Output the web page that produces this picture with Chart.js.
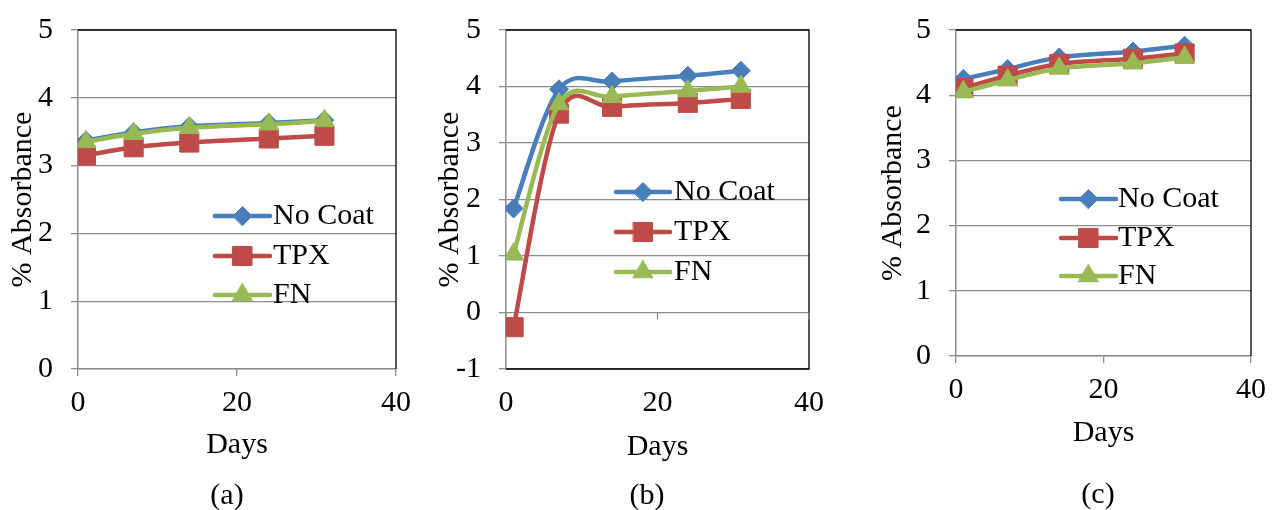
<!DOCTYPE html>
<html>
<head>
<meta charset="utf-8">
<script src="https://cdn.jsdelivr.net/npm/chart.js@4.4.1/dist/chart.umd.min.js"></script>
<style>
    body { margin: 0; background: #fff; }
    #wrap { position: relative; width: 1276px; height: 510px; }
    canvas { position: absolute; top: 0; }
    .cap { position: absolute; font: 30px "Liberation Serif", "Times New Roman", serif; line-height: 1; transform: translate(-50%, -50%); color: #000; }
</style>
</head>
<body>
<div id="wrap">
    <canvas id="chartA" width="420" height="510" style="left:0px"></canvas>
    <canvas id="chartB" width="420" height="510" style="left:420px"></canvas>
    <canvas id="chartC" width="436" height="510" style="left:840px"></canvas>
    <div class="cap" style="left:227px; top:494px">(a)</div>
    <div class="cap" style="left:647px; top:494px">(b)</div>
    <div class="cap" style="left:1098px; top:493px">(c)</div>
</div>
<script>
// datos
const days = [1, 7, 14, 24, 31];
const seriesNames = ['No Coat', 'TPX', 'FN'];

const noCoatA = [3.37, 3.49, 3.58, 3.63, 3.67];
const tpxA = [3.15, 3.27, 3.34, 3.40, 3.44];
const fnA = [3.35, 3.47, 3.56, 3.61, 3.66];

const noCoatB = [1.84, 3.95, 4.09, 4.19, 4.28];
const tpxB = [-0.26, 3.52, 3.64, 3.71, 3.78];
const fnB = [1.03, 3.69, 3.82, 3.92, 4.00];

const noCoatC = [4.25, 4.40, 4.58, 4.67, 4.76];
const tpxC = [4.11, 4.30, 4.48, 4.56, 4.64];
const fnC = [4.05, 4.23, 4.41, 4.49, 4.58];

const xRange = [0, 40];
const xStep = 20;
const yRangeA = [0, 5];
const yRangeB = [-1, 5];
const yRangeC = [0, 5];

const xTitle = 'Days';
const yTitle = '% Absorbance';

// estilos
const colors = ['#4A7EBB', '#BE4B48', '#98B954'];
const markers = ['rectRot', 'rect', 'triangle'];
const markerSize = [9.5, 13.5, 11.5];
const gridColor = '#8c8c8c';
const fontFamily = '"Liberation Serif", "Times New Roman", serif';
const fontSize = 30;

const makeDatasets = (valueLists) => valueLists.map((vals, i) => ({
    label: seriesNames[i],
    data: days.map((d, j) => ({ x: d, y: vals[j] })),
    borderColor: colors[i],
    backgroundColor: colors[i],
    pointBackgroundColor: colors[i],
    pointBorderColor: colors[i],
    borderWidth: 4.5,
    pointStyle: markers[i],
    pointRadius: markerSize[i],
    pointBorderWidth: 1,
    tension: 0.4,
    order: 3 - i,
}));

// suavizado tipo Excel (Catmull-Rom) sobre los puntos ya escalados
const excelSmooth = {
    id: 'excelSmooth',
    beforeDatasetsDraw(chart) {
        chart.getSortedVisibleDatasetMetas().forEach(meta => {
            const line = meta.dataset;
            line.updateControlPoints(chart.chartArea, 'x');
            const pts = meta.data;
            pts.forEach((p, i) => {
                const p0 = pts[i - 1] || p;
                const p2 = pts[i + 1] || p;
                const dx = (p2.x - p0.x) / 6;
                const dy = (p2.y - p0.y) / 6;
                p.cp1x = p.x - dx;
                p.cp1y = p.y - dy;
                p.cp2x = p.x + dx;
                p.cp2y = p.y + dy;
            });
        });
    }
};

// marco, marcas del eje y leyenda dentro del area
const panelDecor = {
    id: 'panelDecor',
    beforeDatasetsDraw(chart, args, opts) {
        const { ctx, chartArea: a, scales } = chart;
        ctx.save();
        ctx.strokeStyle = '#000';
        ctx.lineWidth = 1.3;
        ctx.beginPath();
        ctx.moveTo(a.left, a.top);
        ctx.lineTo(a.right, a.top);
        ctx.lineTo(a.right, a.bottom);
        if (opts.closeBottom) ctx.lineTo(a.left, a.bottom);
        ctx.stroke();
        if (opts.crossAt !== null) {
            const y0 = scales.y.getPixelForValue(opts.crossAt);
            ctx.strokeStyle = gridColor;
            ctx.lineWidth = 1.3;
            scales.x.ticks.forEach(t => {
                const x = scales.x.getPixelForValue(t.value);
                ctx.beginPath();
                ctx.moveTo(x, y0);
                ctx.lineTo(x, y0 + 7);
                ctx.stroke();
            });
        }
        ctx.restore();
    },
    afterDatasetsDraw(chart, args, opts) {
        const { ctx } = chart;
        const lg = opts.legend;
        ctx.save();
        chart.data.datasets.forEach((ds, i) => {
            const y = lg.rows[i];
            ctx.strokeStyle = ds.borderColor;
            ctx.lineWidth = ds.borderWidth;
            ctx.lineCap = 'round';
            ctx.beginPath();
            ctx.moveTo(lg.x1, y);
            ctx.lineTo(lg.x2, y);
            ctx.stroke();
            ctx.fillStyle = ds.pointBackgroundColor;
            ctx.lineWidth = 1;
            Chart.helpers.drawPoint(ctx, {
                pointStyle: ds.pointStyle, radius: ds.pointRadius, rotation: 0, borderWidth: 1
            }, (lg.x1 + lg.x2) / 2, y);
            ctx.fillStyle = '#000';
            ctx.font = fontSize + 'px ' + fontFamily;
            ctx.textBaseline = 'middle';
            ctx.textAlign = 'left';
            ctx.fillText(ds.label, lg.textX, y);
        });
        ctx.restore();
    }
};

const makeChart = (canvasId, valueLists, yRange, box) => {
    const canvas = document.getElementById(canvasId);
    const H = canvas.height;
    const W = canvas.width;
    const lineH = fontSize * 1.2;
    const xAxisHeight = box.daysY + lineH / 2 - box.bottom;
    return new Chart(canvas, {
        type: 'line',
        data: { datasets: makeDatasets(valueLists) },
        plugins: [excelSmooth, panelDecor],
        options: {
            responsive: false,
            animation: false,
            layout: {
                padding: { left: 0, top: box.top, right: W - box.right, bottom: H - box.bottom - xAxisHeight }
            },
            plugins: {
                legend: { display: false },
                tooltip: { enabled: false },
                panelDecor: {
                    closeBottom: box.closeBottom,
                    crossAt: box.crossAt,
                    legend: box.legend,
                },
            },
            scales: {
                x: {
                    type: 'linear',
                    min: xRange[0],
                    max: xRange[1],
                    ticks: {
                        stepSize: xStep,
                        color: '#000',
                        padding: 9,
                        font: { family: fontFamily, size: fontSize, lineHeight: 1.2 },
                    },
                    grid: {
                        drawOnChartArea: false,
                        tickLength: 7,
                        color: box.crossAt !== null ? 'rgba(0,0,0,0)' : gridColor,
                        lineWidth: 1.3,
                    },
                    border: { display: box.crossAt === null, color: gridColor, width: 1.5 },
                    title: {
                        display: true,
                        text: xTitle,
                        color: '#000',
                        padding: 0,
                        font: { family: fontFamily, size: fontSize, lineHeight: 1.2 },
                    },
                    afterFit: (scale) => { scale.height = xAxisHeight; },
                },
                y: {
                    min: yRange[0],
                    max: yRange[1],
                    ticks: {
                        stepSize: 1,
                        color: '#000',
                        padding: 18,
                        font: { family: fontFamily, size: fontSize, lineHeight: 0.8 },
                    },
                    grid: { color: gridColor, lineWidth: 1.3, tickLength: 7 },
                    border: { color: gridColor, width: 1.5 },
                    title: {
                        display: true,
                        text: yTitle,
                        color: '#000',
                        padding: { top: box.yTitleX - lineH / 2, bottom: 0 },
                        font: { family: fontFamily, size: fontSize, lineHeight: 1.2 },
                    },
                    afterFit: (scale) => { scale.width = box.left; },
                },
            },
        },
    });
};

makeChart('chartA', [noCoatA, tpxA, fnA], yRangeA, {
    left: 78, right: 396, top: 23, bottom: 369, yTitleX: 23, daysY: 445,
    closeBottom: false, crossAt: null,
    legend: { x1: 215, x2: 270, textX: 273, rows: [216, 256, 295] },
});
makeChart('chartB', [noCoatB, tpxB, fnB], yRangeB, {
    left: 86, right: 389, top: 18, bottom: 369, yTitleX: 30, daysY: 447,
    closeBottom: true, crossAt: 0,
    legend: { x1: 196, x2: 250, textX: 254, rows: [192, 232, 272] },
});
makeChart('chartC', [noCoatC, tpxC, fnC], yRangeC, {
    left: 116, right: 411, top: 13, bottom: 356, yTitleX: 53, daysY: 433,
    closeBottom: false, crossAt: null,
    legend: { x1: 221, x2: 276, textX: 278, rows: [199, 238, 276] },
});
</script>
</body>
</html>
